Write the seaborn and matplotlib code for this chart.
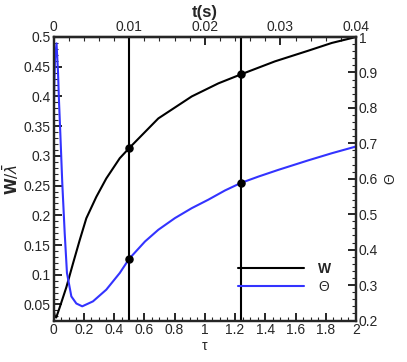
import numpy as np
import pandas as pd
import matplotlib
matplotlib.use('Agg')
import matplotlib.pyplot as plt
from matplotlib.ticker import MultipleLocator, FixedLocator, FuncFormatter
from matplotlib.lines import Line2D
import seaborn as sns

# values
tau_w = [0.0, 0.008, 0.018, 0.041, 0.085, 0.129, 0.173, 0.217, 0.283, 0.349,
         0.438, 0.5, 0.693, 0.914, 1.09, 1.238, 1.464, 1.685, 1.84, 2.0]
w_vals = [0.042, 0.031, 0.028, 0.045, 0.079, 0.119, 0.158, 0.195, 0.231, 0.262,
          0.296, 0.313, 0.363, 0.400, 0.422, 0.437, 0.459, 0.477, 0.490, 0.500]

tau_th = [0.0, 0.005, 0.01, 0.02, 0.03, 0.036, 0.045, 0.058, 0.074, 0.089,
          0.118, 0.151, 0.19, 0.261, 0.349, 0.438, 0.5, 0.605, 0.693, 0.803,
          0.914, 1.024, 1.134, 1.238, 1.354, 1.486, 1.685, 1.84, 2.0]
theta_vals = [0.72, 0.86, 0.94, 0.982, 0.90, 0.823, 0.729, 0.588, 0.447, 0.334,
              0.268, 0.248, 0.240, 0.254, 0.287, 0.334, 0.374, 0.423, 0.456, 0.489,
              0.517, 0.541, 0.567, 0.588, 0.606, 0.625, 0.652, 0.672, 0.691]

tau_marks = [0.5, 1.238]
w_marks = [0.313, 0.437]
theta_marks = [0.374, 0.588]

t_ticks = [0, 0.01, 0.02, 0.03, 0.04]

blue = '#3333ff'

sns.set_style('ticks')
plt.rcParams['font.family'] = ['Liberation Sans', 'DejaVu Sans']
plt.rcParams['font.size'] = 10
plt.rcParams['mathtext.fontset'] = 'dejavusans'

fig = plt.figure(figsize=(4.07, 3.62), dpi=100)
ax = fig.add_axes([53.5 / 407, 1 - 320.5 / 362, 302.5 / 407, 283.5 / 362])
ax2 = ax.twinx()

df_w = pd.DataFrame({'tau': tau_w, 'W': w_vals})
df_th = pd.DataFrame({'tau': tau_th, 'Theta': theta_vals})

sns.lineplot(data=df_w, x='tau', y='W', ax=ax, color='black', lw=1.5, sort=False)
sns.lineplot(data=df_th, x='tau', y='Theta', ax=ax2, color=blue, lw=1.5, sort=False)

for t in tau_marks:
    ax.axvline(t, color='black', lw=1.5, zorder=1)
ax.scatter(tau_marks, w_marks, color='black', s=26, zorder=5)
ax2.scatter(tau_marks, theta_marks, color='black', s=26, zorder=5)

ax.set_xlim(0, 2)
ax.set_ylim(0.023, 0.5)
ax2.set_ylim(0.2, 1.0)

fmt = FuncFormatter(lambda v, p: '%g' % round(v, 4))
ax.xaxis.set_major_locator(MultipleLocator(0.2))
ax.xaxis.set_minor_locator(MultipleLocator(0.05))
ax.yaxis.set_major_locator(MultipleLocator(0.05))
ax.yaxis.set_minor_locator(MultipleLocator(0.01))
ax2.yaxis.set_major_locator(MultipleLocator(0.1))
ax2.yaxis.set_minor_locator(MultipleLocator(0.02))
for a in (ax.xaxis, ax.yaxis, ax2.yaxis):
    a.set_major_formatter(fmt)

top = ax.secondary_xaxis('top', functions=(lambda x: x / 50, lambda x: x * 50))
top.xaxis.set_major_locator(FixedLocator(t_ticks))
top.xaxis.set_minor_locator(MultipleLocator(0.002))
top.xaxis.set_major_formatter(fmt)

for a in (ax, ax2, top):
    a.tick_params(which='major', direction='in', length=6, width=1.4, pad=2, labelsize=10)
    a.tick_params(which='minor', direction='in', length=3, width=0.8)
for s in ax.spines.values():
    s.set_linewidth(1.6)
for s in ax2.spines.values():
    s.set_linewidth(1.6)
top.spines['top'].set_linewidth(1.6)

ax.set_xlabel('τ', labelpad=1)
ax.set_ylabel(r'$\mathbf{W}/\bar{\lambda}$', fontsize=11, labelpad=2)
ax2.set_ylabel('Θ', labelpad=4)
top.set_xlabel('t(s)', fontweight='bold', fontsize=12, labelpad=2)

handles = [Line2D([], [], color='black', lw=1.5), Line2D([], [], color=blue, lw=1.5)]
leg = ax.legend(handles, ['W', 'Θ'], loc='lower right', bbox_to_anchor=(0.96, 0.05),
                frameon=False, handlelength=4.8, handletextpad=1.0, labelspacing=0.3)
leg.get_texts()[0].set_fontweight('bold')

fig.savefig('out.png', dpi=100)
